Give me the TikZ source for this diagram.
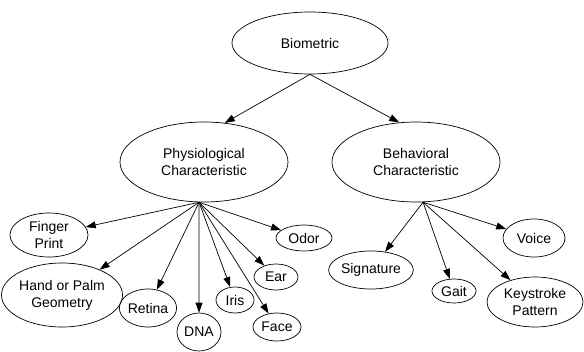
\documentclass[tikz,border=0pt]{standalone}
\usepackage{fontspec}
\setmainfont{Liberation Sans}
\usetikzlibrary{shapes.geometric,arrows.meta}

\begin{document}
\begin{tikzpicture}[x=1pt, y=-1pt,
    bubble/.style={ellipse, draw, line width=0.7pt, inner sep=0pt, align=center, font=\fontsize{14}{17}\selectfont},
    link/.style={-{Triangle[length=10pt,width=7pt]}, line width=0.7pt}]
    \useasboundingbox (0,0) rectangle (584,351) ;
    % top level
    \node [bubble, minimum width=156, minimum height=62] (bio) at (310,43) {Biometric} ;
    \node [bubble, minimum width=168, minimum height=80] (phys) at (204,162) {Physiological\\Characteristic} ;
    \node [bubble, minimum width=168, minimum height=80] (behav) at (416,162) {Behavioral\\Characteristic} ;
    \draw [link] (bio.south) -- (phys.62) ;
    \draw [link] (bio.south) -- (behav.113) ;
    % physiological
    \node [bubble, minimum width=78, minimum height=44] (finger) at (49,235) {Finger\\Print} ;
    \node [bubble, minimum width=106, minimum height=64] (hand) at (62,295) {Hand or Palm\\Geometry} ;
    \node [bubble, minimum width=57, minimum height=38] (retina) at (148,308) {Retina} ;
    \node [bubble, minimum width=44, minimum height=38] (dna) at (199,332) {DNA} ;
    \node [bubble, minimum width=38, minimum height=26] (iris) at (235,300) {Iris} ;
    \node [bubble, minimum width=44, minimum height=26] (ear) at (276,277) {Ear} ;
    \node [bubble, minimum width=48, minimum height=28] (face) at (277,327) {Face} ;
    \node [bubble, minimum width=56, minimum height=26] (odor) at (304,238) {Odor} ;
    \foreach \kid in {finger, hand, retina, dna, iris, ear, face, odor}
        \draw [link] (phys.263) -- (\kid) ;
    % behavioral
    \node [bubble, minimum width=78, minimum height=38] (sign) at (371,270) {Signature} ;
    \node [bubble, minimum width=44, minimum height=24] (gait) at (454,291) {Gait} ;
    \node [bubble, minimum width=96, minimum height=50] (key) at (535,302) {Keystroke\\Pattern} ;
    \node [bubble, minimum width=62, minimum height=38] (voice) at (534,238) {Voice} ;
    \foreach \kid in {sign, gait, key, voice}
        \draw [link] (behav.280) -- (\kid) ;
\end{tikzpicture}
\end{document}
